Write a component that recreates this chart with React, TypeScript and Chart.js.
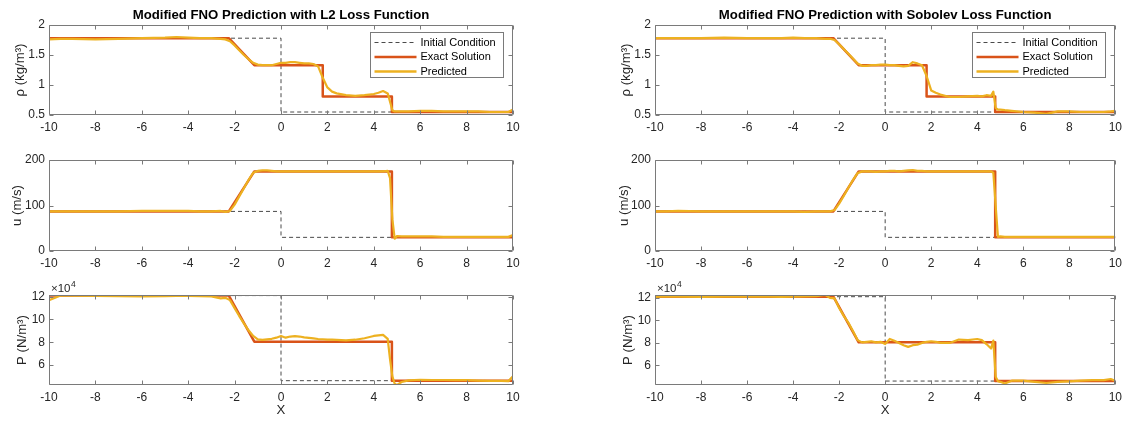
import React, { useEffect, useRef } from "react";
import { Chart, registerables } from "chart.js";

Chart.register(...registerables);

const FONT = "'Liberation Sans', Arial, Helvetica, sans-serif";
Chart.defaults.font.family = FONT;

// ---------- data ----------
const xPred = [
  -10, -9.5, -9, -8, -7, -6, -5, -4.5, -4, -3.5, -3, -2.6, -2.4, -2.2, -2.0, -1.8, -1.6, -1.4, -1.2, -1.0,
  -0.8, -0.6, -0.4, -0.2, 0, 0.2, 0.4, 0.6, 0.8, 1.0, 1.2, 1.4, 1.6, 1.8, 2.0, 2.2, 2.4, 2.8, 3.2, 3.6,
  4.0, 4.2, 4.4, 4.6, 4.7, 4.8, 4.9, 5.0, 5.2, 5.5, 6, 6.5, 7, 7.5, 8, 8.5, 9, 9.5, 9.8, 10,
];

const rhoPredL2 = [
  1.76, 1.77, 1.77, 1.76, 1.77, 1.78, 1.79, 1.8, 1.79, 1.78, 1.78, 1.77, 1.76, 1.73, 1.66, 1.58, 1.5, 1.43, 1.37, 1.34,
  1.33, 1.33, 1.33, 1.35, 1.37, 1.37, 1.38, 1.38, 1.37, 1.36, 1.36, 1.35, 1.31, 1.12, 0.96, 0.89, 0.86, 0.83, 0.82, 0.83,
  0.85, 0.87, 0.9, 0.86, 0.72, 0.58, 0.56, 0.56, 0.56, 0.56, 0.57, 0.57, 0.56, 0.56, 0.56, 0.56, 0.55, 0.55, 0.55, 0.59,
];
const uPredL2 = [
  87, 87, 87, 87, 87, 88, 88, 88, 88, 87, 87, 88, 86, 88, 102, 120, 138, 156, 172, 176,
  177, 177, 176, 175, 175, 175, 175, 175, 175, 175, 175, 175, 175, 175, 175, 175, 175, 175, 175, 175,
  175, 175, 175, 176, 160, 70, 27, 33, 32, 32, 32, 32, 31, 31, 31, 31, 31, 31, 31, 35,
];
const pPredL2 = [
  117000, 121000, 121000, 120800, 120500, 120300, 120500, 120600, 120700, 120500, 120200, 118500, 119000, 117000, 110000, 103000, 96500, 90500, 85500, 82500,
  82000, 82500, 83000, 84000, 85500, 84000, 85000, 85300, 85000, 84300, 83800, 83300, 82800, 82600, 82300, 82200, 82000, 81600, 82200, 83500,
  85500, 86000, 86500, 83000, 65000, 50000, 43500, 42500, 45000, 46500, 47000, 46800, 46800, 46700, 46600, 46300, 46000, 46000, 45800, 50000,
];

const rhoPredSob = [
  1.78, 1.78, 1.78, 1.78, 1.79, 1.78, 1.78, 1.78, 1.79, 1.78, 1.78, 1.77, 1.77, 1.75, 1.68, 1.6, 1.52, 1.44, 1.36, 1.32,
  1.32, 1.33, 1.33, 1.34, 1.34, 1.33, 1.33, 1.32, 1.31, 1.32, 1.38, 1.36, 1.33, 1.15, 0.91, 0.87, 0.84, 0.8, 0.8, 0.81,
  0.82, 0.81, 0.83, 0.82, 0.89, 0.62, 0.59, 0.59, 0.58, 0.57, 0.55, 0.54, 0.52, 0.56, 0.56, 0.55, 0.55, 0.55, 0.56, 0.57,
];
const uPredSob = [
  87, 87, 88, 87, 87, 87, 87, 87, 87, 86, 87, 87, 87, 90, 104, 121, 139, 156, 171, 175,
  175, 175, 174, 175, 175, 176, 176, 175, 176, 177, 178, 176, 176, 175, 175, 175, 175, 175, 175, 175,
  175, 175, 175, 175, 172, 100, 31, 32, 31, 31, 31, 31, 31, 31, 31, 31, 31, 31, 31, 31,
];
const pPredSob = [
  120800, 121200, 121000, 120800, 121000, 121000, 121000, 120800, 121000, 121200, 121500, 122500, 120000, 119500, 111000, 104000, 98000, 90500, 82500, 80500,
  81000, 81500, 80500, 81000, 79000, 83500, 82000, 80000, 78000, 76500, 78000, 78500, 80000, 81000, 81500, 81000, 80000, 80000, 83000, 82500,
  83500, 82500, 79000, 75000, 82000, 50000, 46000, 45500, 44000, 46500, 46500, 45500, 44500, 45500, 46000, 46500, 47000, 47000, 48000, 46500,
];

const xInit = [-10, 0, 0, 10];
const rhoInit = [1.78, 1.78, 0.55, 0.55];
const uInit = [87, 87, 30, 30];
const pInit = [121000, 121000, 46200, 46200];

const xExact = [-10, -2.25, -1.15, 1.8, 1.8, 4.78, 4.78, 10];
const rhoExact = [1.78, 1.78, 1.33, 1.33, 0.81, 0.81, 0.55, 0.55];
const uExact = [87, 87, 175, 175, 175, 175, 30, 30];
const pExact = [121000, 121000, 80500, 80500, 80500, 80500, 46200, 46200];

const xTicks = [-10, -8, -6, -4, -2, 0, 2, 4, 6, 8, 10];
const xTickLabels = ["-10", "-8", "-6", "-4", "-2", "0", "2", "4", "6", "8", "10"];
const rhoTicks = [0.5, 1, 1.5, 2];
const rhoTickLabels = ["0.5", "1", "1.5", "2"];
const uTicks = [0, 100, 200];
const uTickLabels = ["0", "100", "200"];
const pTicks = [60000, 80000, 100000, 120000];
const pTickLabels = ["6", "8", "10", "12"];

const titles = [
  "Modified FNO Prediction with L2 Loss Function",
  "Modified FNO Prediction with Sobolev Loss Function",
];
const legendLabels = ["Initial Condition", "Exact Solution", "Predicted"];
const yTitles = ["\u03c1 (kg/m\u00b3)", "u (m/s)", "P (N/m\u00b3)"];
const xTitle = "X";

// ---------- styles / layout ----------
const INIT_COLOR = "#4a4a4a";
const EXACT_COLOR = "#D95319";
const PRED_COLOR = "#EDB120";
const TEXT_COLOR = "#262626";
const FRAME_COLOR = "#7a7a7a";
const TICK_FONT = 12;
const LABEL_FONT = 13.2;

const colLeft = [0, 580];
const colWidth = [560, 547];
const yAxisW = [49, 75];
const padRight = [47, 8];
const rowTop = [0, 140, 275];
const rowHeight = [140, 135, 147];
const padTop = [25, 20, 20];
const xAxisH = [25, 24, 37];
const yTitlePad = [
  [12, 9.5, 14],
  [38, 36, 40],
];

type Spec = {
  col: number;
  row: number;
  yMin: number;
  yMax: number;
  yTicks: number[];
  yTickLabels: string[];
  init: number[];
  exact: number[];
  pred: number[];
};

const specs: Spec[] = [
  { col: 0, row: 0, yMin: 0.5, yMax: 2, yTicks: rhoTicks, yTickLabels: rhoTickLabels, init: rhoInit, exact: rhoExact, pred: rhoPredL2 },
  { col: 0, row: 1, yMin: 0, yMax: 200, yTicks: uTicks, yTickLabels: uTickLabels, init: uInit, exact: uExact, pred: uPredL2 },
  { col: 0, row: 2, yMin: 42400, yMax: 121500, yTicks: pTicks, yTickLabels: pTickLabels, init: pInit, exact: pExact, pred: pPredL2 },
  { col: 1, row: 0, yMin: 0.5, yMax: 2, yTicks: rhoTicks, yTickLabels: rhoTickLabels, init: rhoInit, exact: rhoExact, pred: rhoPredSob },
  { col: 1, row: 1, yMin: 0, yMax: 200, yTicks: uTicks, yTickLabels: uTickLabels, init: uInit, exact: uExact, pred: uPredSob },
  { col: 1, row: 2, yMin: 42700, yMax: 122500, yTicks: pTicks, yTickLabels: pTickLabels, init: pInit, exact: pExact, pred: pPredSob },
];

const pts = (xs: number[], ys: number[]) => xs.map((x, i) => ({ x, y: ys[i] }));

const framePlugin = {
  id: "matlabFrame",
  afterDatasetsDraw(chart: any, _args: any, opts: any) {
    const { ctx, chartArea: a, scales } = chart;
    const L = Math.round(a.left) + 0.5;
    const R = Math.round(a.right) - 0.5;
    const T = Math.round(a.top) + 0.5;
    const B = Math.round(a.bottom) - 0.5;
    const TL = 4;
    ctx.save();
    ctx.strokeStyle = FRAME_COLOR;
    ctx.lineWidth = 1;
    ctx.setLineDash([]);
    ctx.beginPath();
    ctx.rect(L, T, R - L, B - T);
    scales.x.ticks.forEach((t: any) => {
      const px = Math.round(scales.x.getPixelForValue(t.value)) + 0.5;
      ctx.moveTo(px, B);
      ctx.lineTo(px, B - TL);
      ctx.moveTo(px, T);
      ctx.lineTo(px, T + TL);
    });
    scales.y.ticks.forEach((t: any) => {
      const py = Math.round(scales.y.getPixelForValue(t.value)) + 0.5;
      ctx.moveTo(L, py);
      ctx.lineTo(L + TL, py);
      ctx.moveTo(R, py);
      ctx.lineTo(R - TL, py);
    });
    ctx.stroke();

    if (opts.title) {
      ctx.fillStyle = "#000";
      ctx.font = `bold ${LABEL_FONT}px ${FONT}`;
      ctx.textAlign = "center";
      ctx.textBaseline = "alphabetic";
      ctx.fillText(opts.title, (a.left + a.right) / 2, a.top - 6);
    }

    if (opts.exponent) {
      ctx.fillStyle = TEXT_COLOR;
      ctx.textAlign = "left";
      ctx.textBaseline = "alphabetic";
      ctx.font = `11.5px ${FONT}`;
      const base = a.top - 3.5;
      const x0 = a.left + 2;
      ctx.fillText("\u00d710", x0, base);
      const w = ctx.measureText("\u00d710").width;
      ctx.font = `8.5px ${FONT}`;
      ctx.fillText("4", x0 + w + 0.5, base - 5);
    }

    if (opts.legend) {
      const bw = 133;
      const bh = 45;
      const bx = Math.round(a.right - 10 - bw) + 0.5;
      const by = Math.round(a.top + 7) + 0.5;
      ctx.fillStyle = "#fff";
      ctx.fillRect(bx, by, bw, bh);
      ctx.strokeStyle = FRAME_COLOR;
      ctx.lineWidth = 1;
      ctx.strokeRect(bx, by, bw, bh);
      const rows = [10, 24.5, 39];
      const styles = [
        { c: INIT_COLOR, w: 1, d: [4, 3] },
        { c: EXACT_COLOR, w: 2.5, d: [] },
        { c: PRED_COLOR, w: 2.5, d: [] },
      ];
      legendLabels.forEach((lab, i) => {
        const y = by + rows[i];
        ctx.beginPath();
        ctx.strokeStyle = styles[i].c;
        ctx.lineWidth = styles[i].w;
        ctx.setLineDash(styles[i].d);
        ctx.moveTo(bx + 4, y);
        ctx.lineTo(bx + 46, y);
        ctx.stroke();
        ctx.setLineDash([]);
        ctx.fillStyle = "#000";
        ctx.font = `11px ${FONT}`;
        ctx.textAlign = "left";
        ctx.textBaseline = "middle";
        ctx.fillText(lab, bx + 50, y);
      });
    }
    ctx.restore();
  },
};

function Panel({ spec }: { spec: Spec }) {
  const ref = useRef<HTMLCanvasElement>(null);
  const { col, row } = spec;
  const w = colWidth[col];
  const h = rowHeight[row];

  useEffect(() => {
    if (!ref.current) return;
    const chart = new Chart(ref.current, {
      type: "line",
      data: {
        datasets: [
          {
            label: legendLabels[0],
            data: pts(xInit, spec.init),
            borderColor: INIT_COLOR,
            borderWidth: 1,
            borderDash: [4, 3],
            order: 3,
          },
          {
            label: legendLabels[1],
            data: pts(xExact, spec.exact),
            borderColor: EXACT_COLOR,
            borderWidth: 2.5,
            order: 2,
          },
          {
            label: legendLabels[2],
            data: pts(xPred, spec.pred),
            borderColor: PRED_COLOR,
            borderWidth: 2.2,
            order: 1,
          },
        ],
      },
      plugins: [framePlugin],
      options: {
        responsive: false,
        animation: false,
        devicePixelRatio: 1,
        events: [],
        elements: {
          point: { radius: 0 },
          line: { tension: 0, fill: false, borderCapStyle: "butt", borderJoinStyle: "round" },
        },
        layout: { padding: { left: 0, top: padTop[row], right: padRight[col], bottom: 0 } },
        plugins: {
          legend: { display: false },
          tooltip: { enabled: false },
          title: { display: false },
          matlabFrame: {
            title: row === 0 ? titles[col] : null,
            legend: row === 0,
            exponent: row === 2,
          },
        } as any,
        scales: {
          x: {
            type: "linear",
            min: -10,
            max: 10,
            afterBuildTicks: (s: any) => {
              s.ticks = xTicks.map((v) => ({ value: v }));
            },
            afterFit: (s: any) => {
              s.height = xAxisH[row];
            },
            grid: { display: false, drawTicks: false },
            border: { display: false },
            ticks: {
              autoSkip: false,
              maxRotation: 0,
              minRotation: 0,
              padding: 5,
              color: TEXT_COLOR,
              font: { size: TICK_FONT },
              callback: (v: any) => xTickLabels[xTicks.indexOf(Number(v))],
            },
            title: {
              display: row === 2,
              text: xTitle,
              color: TEXT_COLOR,
              font: { size: LABEL_FONT },
              padding: { top: 0, bottom: 4 },
            },
          },
          y: {
            type: "linear",
            min: spec.yMin,
            max: spec.yMax,
            afterBuildTicks: (s: any) => {
              s.ticks = spec.yTicks.map((v) => ({ value: v }));
            },
            afterFit: (s: any) => {
              s.width = yAxisW[col];
            },
            grid: { display: false, drawTicks: false },
            border: { display: false },
            ticks: {
              autoSkip: false,
              padding: 4,
              color: TEXT_COLOR,
              font: { size: TICK_FONT },
              callback: (v: any) => spec.yTickLabels[spec.yTicks.indexOf(Number(v))],
            },
            title: {
              display: true,
              text: yTitles[row],
              color: TEXT_COLOR,
              font: { size: LABEL_FONT },
              padding: { top: yTitlePad[col][row], bottom: 0 },
            },
          },
        },
      } as any,
    });
    return () => chart.destroy();
  }, []);

  return (
    <canvas
      ref={ref}
      width={w}
      height={h}
      style={{
        position: "absolute",
        left: colLeft[col],
        top: rowTop[row],
        width: w,
        height: h,
        display: "block",
      }}
    />
  );
}

export default function App() {
  return (
    <div
      style={{
        position: "fixed",
        left: 0,
        top: 0,
        width: 1127,
        height: 422,
        background: "#fff",
        overflow: "hidden",
      }}
    >
      {specs.map((s, i) => (
        <Panel key={i} spec={s} />
      ))}
    </div>
  );
}
